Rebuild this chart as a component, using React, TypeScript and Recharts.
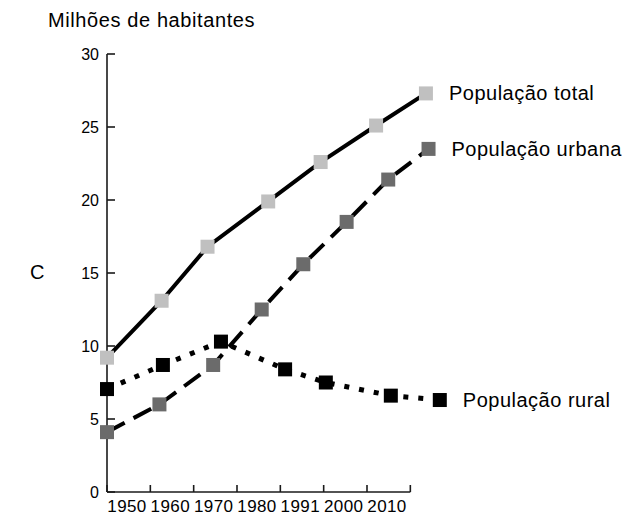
import { LineChart, Line, XAxis, YAxis, ReferenceLine } from 'recharts';

const FONTE = '"Liberation Sans", Arial, Helvetica, sans-serif';

// eixo x: marcas nos limites de cada faixa, rótulo no meio
const marcasX = [1945, 1955, 1965, 1975, 1985, 1995, 2005, 2015];
const rotulosAnos = ['1950', '1960', '1970', '1980', '1991', '2000', '2010'];
const marcasY = [0, 5, 10, 15, 20, 25, 30];

// população total
const anosTotal = [1945, 1957.6, 1968.2, 1982.2, 1994.3, 2007.1, 2018.6];
const popTotal = [9.2, 13.1, 16.8, 19.9, 22.6, 25.1, 27.3];

// população urbana
const anosUrbana = [1945, 1957.1, 1969.5, 1980.7, 1990.3, 2000.3, 2009.9, 2019.2];
const popUrbana = [4.1, 6.0, 8.7, 12.5, 15.6, 18.5, 21.4, 23.5];

// população rural
const anosRural = [1945, 1957.9, 1971.3, 1986.1, 1995.5, 2010.5, 2021.8];
const popRural = [7.05, 8.7, 10.3, 8.4, 7.5, 6.6, 6.3];

const montar = (anos: number[], valores: number[]) =>
  anos.map((ano, i) => ({ ano, valor: valores[i] }));

const dadosTotal = montar(anosTotal, popTotal);
const dadosUrbana = montar(anosUrbana, popUrbana);
const dadosRural = montar(anosRural, popRural);

function quadrado(cor: string, lado: number) {
  return (props: any) => {
    const { cx, cy, index } = props;
    if (cx == null || cy == null) return <g key={`q-${index}`} />;
    return (
      <rect
        key={`q-${index}`}
        x={cx - lado / 2}
        y={cy - lado / 2}
        width={lado}
        height={lado}
        fill={cor}
      />
    );
  };
}

function rotuloFinal(texto: string, total: number) {
  return (props: any) => {
    const { x, y, index } = props;
    if (index !== total - 1) return <g key={`r-${index}`} />;
    return (
      <text
        key={`r-${index}`}
        x={x + 23}
        y={y}
        dy={7}
        fontSize={20}
        letterSpacing={0.5}
        fontFamily={FONTE}
        fill="#000"
      >
        {texto}
      </text>
    );
  };
}

function TickX(props: any) {
  const { x, y, payload } = props;
  const i = marcasX.indexOf(payload.value);
  return (
    <g>
      <line x1={x} x2={x} y1={y} y2={y - 7} stroke="#1a1a1a" strokeWidth={1.6} />
      {i >= 0 && i < rotulosAnos.length && (
        <text
          x={x + 20}
          y={y + 20}
          textAnchor="middle"
          fontSize={17}
          letterSpacing={0.4}
          fontFamily={FONTE}
          fill="#000"
        >
          {rotulosAnos[i]}
        </text>
      )}
    </g>
  );
}

function TickY(props: any) {
  const { x, y, payload } = props;
  return (
    <g>
      <line x1={x + 8} x2={x + 16} y1={y} y2={y} stroke="#1a1a1a" strokeWidth={1.6} />
      <text x={x} y={y} dy={6} textAnchor="end" fontSize={16} fontFamily={FONTE} fill="#000">
        {payload.value}
      </text>
    </g>
  );
}

export default function App() {
  return (
    <div style={{ position: 'absolute', left: 0, top: 0, width: 624, height: 515, background: '#fff' }}>
      <LineChart width={624} height={515} margin={{ top: 54, right: 179, bottom: 0, left: 0 }}>
        <XAxis
          type="number"
          dataKey="ano"
          domain={[1945, 2023]}
          ticks={marcasX}
          interval={0}
          axisLine={false}
          tickLine={false}
          tickSize={0}
          tickMargin={0}
          height={23}
          tick={<TickX />}
        />
        <YAxis
          type="number"
          domain={[0, 30]}
          ticks={marcasY}
          interval={0}
          width={107}
          axisLine={{ stroke: '#1a1a1a', strokeWidth: 1.6 }}
          tickLine={false}
          tickSize={0}
          tickMargin={8}
          tick={<TickY />}
        />
        <ReferenceLine
          segment={[{ x: 1945, y: 0 }, { x: 2015, y: 0 }]}
          stroke="#1a1a1a"
          strokeWidth={1.6}
        />
        <Line
          data={dadosTotal}
          dataKey="valor"
          type="linear"
          stroke="#000"
          strokeWidth={4}
          dot={quadrado('#c0c0c0', 14)}
          activeDot={false}
          label={rotuloFinal('População total', dadosTotal.length)}
          isAnimationActive={false}
        />
        <Line
          data={dadosUrbana}
          dataKey="valor"
          type="linear"
          stroke="#000"
          strokeWidth={4}
          strokeDasharray="20 10"
          dot={quadrado('#6b6b6b', 14)}
          activeDot={false}
          label={rotuloFinal('População urbana', dadosUrbana.length)}
          isAnimationActive={false}
        />
        <Line
          data={dadosRural}
          dataKey="valor"
          type="linear"
          stroke="#000"
          strokeWidth={5}
          strokeDasharray="5 10"
          dot={quadrado('#000', 14)}
          activeDot={false}
          label={rotuloFinal('População rural', dadosRural.length)}
          isAnimationActive={false}
        />
        <text x={48} y={27} fontSize={20} letterSpacing={0.6} fontFamily={FONTE} fill="#000">
          Milhões de habitantes
        </text>
        <text x={30} y={279} fontSize={20} fontFamily={FONTE} fill="#000">
          C
        </text>
      </LineChart>
    </div>
  );
}
